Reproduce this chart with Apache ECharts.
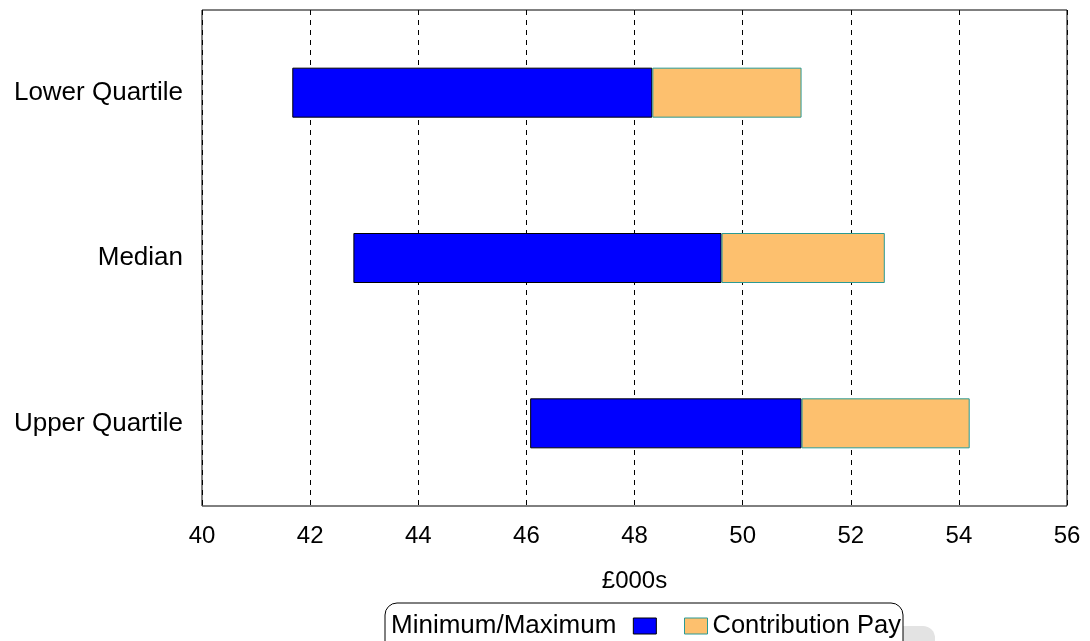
<!DOCTYPE html>
<html>
<head>
<meta charset="utf-8">
<script src="https://cdn.jsdelivr.net/npm/echarts@6/dist/echarts.min.js"></script>
<style>
  html, body { margin: 0; padding: 0; background: #fff; }
  #chart { width: 1090px; height: 641px; }
</style>
</head>
<body>
<div id="chart"></div>
<script>
// Pay ranges (£000s) per quartile band
const categories = ['Lower Quartile', 'Median', 'Upper Quartile'];
const minimumPay = [41.67, 42.8, 46.07];
const maximumPay = [48.33, 49.61, 51.09];
const contributionTop = [51.09, 52.63, 54.2];
const xTicks = [40, 42, 44, 46, 48, 50, 52, 54, 56];

const FONT = 'Liberation Sans, Arial, sans-serif';
const FS_TICK = 24;
const FS_TEXT = 26;

// Stacked segments: invisible offset, min-max range, contribution band
const rangeSpan = maximumPay.map((v, i) => +(v - minimumPay[i]).toFixed(2));
const contribSpan = contributionTop.map((v, i) => +(v - maximumPay[i]).toFixed(2));

const chart = echarts.init(document.getElementById('chart'), null, { renderer: 'canvas' });

chart.setOption({
  animation: false,
  backgroundColor: '#fff',
  textStyle: { fontFamily: FONT },
  grid: {
    left: 202, right: 23, top: 10, bottom: 135,
    show: true, borderColor: '#000', borderWidth: 1, backgroundColor: 'transparent'
  },
  xAxis: {
    type: 'value',
    min: xTicks[0], max: xTicks[xTicks.length - 1], interval: 2,
    name: '£000s', nameLocation: 'middle', nameGap: 63,
    nameTextStyle: { color: '#000', fontSize: FS_TICK, fontFamily: FONT },
    axisLine: { show: false },
    axisTick: { show: false },
    axisLabel: { color: '#000', fontSize: FS_TICK, fontFamily: FONT, margin: 18 },
    splitLine: {
      show: true,
      lineStyle: { color: '#000', width: 1, type: [5, 5] }
    }
  },
  yAxis: {
    type: 'category',
    data: categories,
    inverse: true,
    axisLine: { show: false },
    axisTick: { show: false },
    axisLabel: { color: '#000', fontSize: FS_TEXT, fontFamily: FONT, margin: 19 },
    splitLine: { show: false }
  },
  legend: [
    {
      data: [{ name: 'Minimum/Maximum', itemStyle: { color: '#0000ff', borderColor: '#000', borderWidth: 1 } }],
      align: 'right', icon: 'rect', padding: 0,
      left: 391, top: 613,
      itemWidth: 23, itemHeight: 16,
      textStyle: { color: '#000', fontSize: FS_TEXT, fontFamily: FONT, padding: [0, 12, 0, 0] },
      selectedMode: false
    },
    {
      data: [{ name: 'Contribution Pay', itemStyle: { color: '#fdc06e', borderColor: '#2a9a94', borderWidth: 1 } }],
      align: 'left', icon: 'rect', padding: 0,
      left: 684, top: 613,
      itemWidth: 23, itemHeight: 16,
      textStyle: { color: '#000', fontSize: 25.5, fontFamily: FONT },
      selectedMode: false
    }
  ],
  graphic: [
    {
      type: 'rect', z: -1, silent: true,
      shape: { x: 417, y: 626, width: 518, height: 50, r: 12 },
      style: { fill: '#e3e3e3' }
    },
    {
      type: 'rect', z: 0, silent: true,
      shape: { x: 385, y: 603, width: 518, height: 50, r: 12 },
      style: { fill: '#fff', stroke: '#000', lineWidth: 1 }
    }
  ],
  series: [
    {
      name: 'base', type: 'bar', stack: 'pay', silent: true,
      barWidth: 50,
      itemStyle: { color: 'transparent', borderWidth: 0 },
      data: minimumPay
    },
    {
      name: 'Minimum/Maximum', type: 'bar', stack: 'pay',
      barWidth: 50,
      itemStyle: { color: '#0000ff', borderColor: '#000', borderWidth: 1 },
      data: rangeSpan
    },
    {
      name: 'Contribution Pay', type: 'bar', stack: 'pay',
      barWidth: 50,
      itemStyle: { color: '#fdc06e', borderColor: '#2a9a94', borderWidth: 1 },
      data: contribSpan
    }
  ]
});
</script>
</body>
</html>
